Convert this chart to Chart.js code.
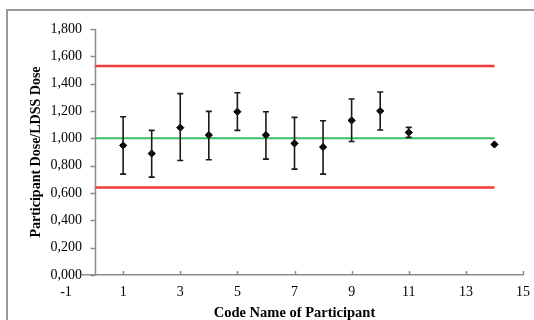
<!DOCTYPE html>
<html>
<head>
<meta charset="utf-8">
<script src="https://cdn.jsdelivr.net/npm/chart.js@4/dist/chart.umd.min.js"></script>
<style>
html,body{margin:0;padding:0;background:#fff;}
#wrap{position:relative;width:534px;height:320px;overflow:hidden;}
#frame{position:absolute;left:6px;top:9px;width:600px;height:400px;border:2px solid #9a9a9a;box-sizing:border-box;pointer-events:none;}
canvas{position:absolute;left:0;top:0;}
</style>
</head>
<body>
<div id="wrap">
<div id="frame"></div>
<canvas id="c" width="534" height="320"></canvas>
</div>
<script>
// ---- data ----
const participants = [1, 2, 3, 4, 5, 6, 7, 8, 9, 10, 11, 14];
const doseRatio    = [0.948, 0.889, 1.078, 1.024, 1.195, 1.024, 0.963, 0.936, 1.131, 1.200, 1.043, 0.955];
const errHigh      = [1.158, 1.058, 1.327, 1.197, 1.334, 1.195, 1.153, 1.129, 1.288, 1.339, 1.080, null];
const errLow       = [0.738, 0.716, 0.838, 0.843, 1.058, 0.848, 0.775, 0.738, 0.977, 1.061, 1.007, null];
const upperLimit = 1.53;
const referenceValue = 1.0;
const lowerLimit = 0.64;
const limitSpan = [0, 14];
const xTicks = [-1, 1, 3, 5, 7, 9, 11, 13, 15];
const yTicks = [0, 0.2, 0.4, 0.6, 0.8, 1.0, 1.2, 1.4, 1.6, 1.8];

function yLabel(v){ // 1,800 style (comma decimal)
  return v.toFixed(3).replace('.', ',');
}

const SERIF = '"Liberation Serif","Times New Roman",serif';

const axisPlugin = {
  id: 'axisExtras',
  afterDatasetsDraw(chart) {
    const {ctx, scales: {x, y}} = chart;
    ctx.save();
    ctx.strokeStyle = '#1a1a1a';
    ctx.lineWidth = 1.6;
    for (let i = 0; i < participants.length; i++) {
      if (errHigh[i] == null || errLow[i] == null) continue;
      const px = x.getPixelForValue(participants[i]);
      const pt = y.getPixelForValue(errHigh[i]);
      const pb = y.getPixelForValue(errLow[i]);
      ctx.beginPath();
      ctx.moveTo(px, pt); ctx.lineTo(px, pb);
      ctx.moveTo(px - 3, pt); ctx.lineTo(px + 3, pt);
      ctx.moveTo(px - 3, pb); ctx.lineTo(px + 3, pb);
      ctx.stroke();
    }
    ctx.restore();
  },
  afterDraw(chart) {
    const {ctx, scales: {x, y}} = chart;
    ctx.save();
    ctx.strokeStyle = '#8c8c8c';
    ctx.lineWidth = 1.5;
    const x0 = Math.round(x.getPixelForValue(0)) + 0.5;
    ctx.beginPath();
    ctx.moveTo(x0, y.getPixelForValue(yTicks[yTicks.length - 1]));
    ctx.lineTo(x0, y.getPixelForValue(0));
    yTicks.forEach(v => {
      const py = Math.round(y.getPixelForValue(v)) + 0.5;
      ctx.moveTo(x0 - 5, py); ctx.lineTo(x0, py);
    });
    const yb = y.getPixelForValue(0);
    xTicks.forEach(v => {
      if (v < 0) return;
      const px = Math.round(x.getPixelForValue(v)) + 0.5;
      ctx.moveTo(px, yb); ctx.lineTo(px, yb - 4);
    });
    ctx.stroke();
    ctx.restore();
  }
};

new Chart(document.getElementById('c'), {
  type: 'scatter',
  data: {
    datasets: [
      {
        label: 'Participant',
        data: participants.map((p, i) => ({x: p, y: doseRatio[i]})),
        backgroundColor: '#000',
        borderColor: '#000',
        pointStyle: 'rectRot',
        pointRadius: 3.6,
        order: 0
      },
      {
        label: 'Upper limit', type: 'line',
        data: limitSpan.map(v => ({x: v, y: upperLimit})),
        borderColor: '#f23a3a', borderWidth: 2.5, pointRadius: 0, order: 1
      },
      {
        label: 'Reference', type: 'line',
        data: limitSpan.map(v => ({x: v, y: referenceValue})),
        borderColor: '#3dbf6a', borderWidth: 2, pointRadius: 0, order: 1
      },
      {
        label: 'Lower limit', type: 'line',
        data: limitSpan.map(v => ({x: v, y: lowerLimit})),
        borderColor: '#f23a3a', borderWidth: 2.5, pointRadius: 0, order: 1
      }
    ]
  },
  options: {
    responsive: false,
    animation: false,
    layout: {padding: {left: 24, top: 29, right: 11, bottom: 0}},
    plugins: {legend: {display: false}, tooltip: {enabled: false}},
    scales: {
      x: {
        type: 'linear',
        min: -1, max: 15,
        afterBuildTicks: s => { s.ticks = xTicks.map(v => ({value: v})); },
        afterFit: s => { s.height = 45; s.paddingRight = 0; s.paddingLeft = 0; },
        grid: {display: false, drawTicks: false},
        border: {display: true, color: '#8c8c8c', width: 1.5},
        ticks: {
          color: '#000', padding: 9,
          font: {family: SERIF, size: 14},
          callback: v => String(v)
        },
        title: {
          display: true, text: 'Code Name of Participant', color: '#000',
          font: {family: SERIF, size: 14.5, weight: 'bold'},
          padding: {top: 3, bottom: -2}
        }
      },
      y: {
        type: 'linear',
        min: 0, max: 1.8,
        afterBuildTicks: s => { s.ticks = yTicks.map(v => ({value: v})); },
        afterFit: s => { s.width = 42; },
        grid: {display: false, drawTicks: false},
        border: {display: false},
        ticks: {
          color: '#000', mirror: true, crossAlign: 'far', padding: -15.5, z: 1,
          font: {family: SERIF, size: 14},
          showLabelBackdrop: true, backdropColor: '#fff', backdropPadding: {top: 0, bottom: 0, left: 1, right: 0},
          callback: v => yLabel(v)
        },
        title: {
          display: true, text: 'Participant Dose/LDSS Dose', color: '#000',
          font: {family: SERIF, size: 14, weight: 'bold'},
          padding: {top: 4, bottom: 4}
        }
      }
    }
  },
  plugins: [axisPlugin]
});
</script>
</body>
</html>
